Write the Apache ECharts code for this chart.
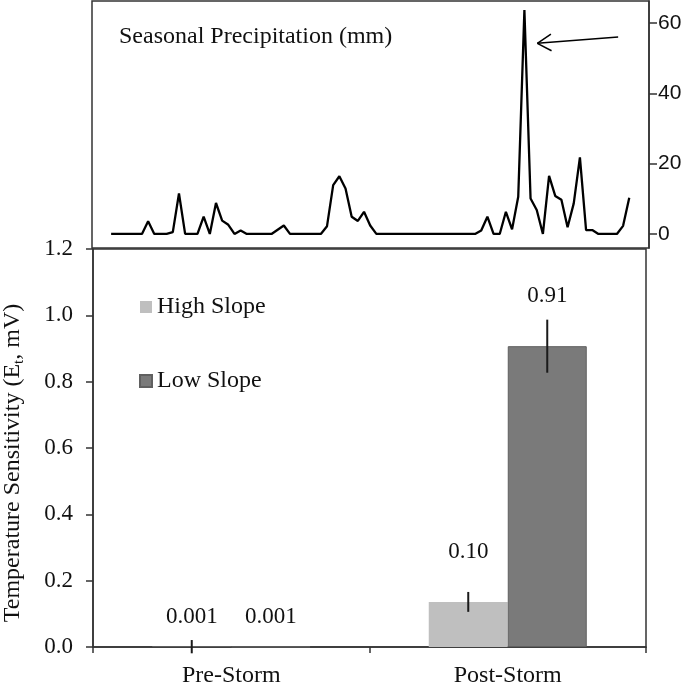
<!DOCTYPE html>
<html>
<head>
<meta charset="utf-8">
<script src="https://cdn.jsdelivr.net/npm/echarts@6/dist/echarts.min.js"></script>
<style>
html,body{margin:0;padding:0;background:#fff;}
#chart{width:685px;height:685px;}
</style>
</head>
<body>
<div id="chart"></div>
<script>
// ---- data ----
const precip = [
  0, 0, 0, 0, 0, 0, 3.6, 0, 0, 0,
  0.5, 11.5, 0, 0, 0, 4.9, 0, 8.8, 3.8, 2.6,
  0, 1.0, 0, 0, 0, 0, 0, 1.2, 2.4, 0,
  0, 0, 0, 0, 0, 2.2, 13.9, 16.4, 12.9, 4.9,
  3.7, 6.3, 2.4, 0, 0, 0, 0, 0, 0, 0,
  0, 0, 0, 0, 0, 0, 0, 0, 0, 0,
  1.0, 4.9, 0, 0, 6.3, 1.3, 10.6, 63.7, 10.1, 6.8,
  0, 16.5, 10.8, 9.7, 1.9, 8.7, 21.8, 1.1, 1.1, 0,
  0, 0, 0, 2.3, 10.3
];
const precipTicks = [0, 20, 40, 60];
const categories = ['Pre-Storm', 'Post-Storm'];
const seriesNames = ['High Slope', 'Low Slope'];
const highSlope = [0.001, 0.136];
const lowSlope = [0.001, 0.907];
const highErr = [0.02, 0.03];
const lowErr = [0, 0.08];
const highLabels = ['0.001', '0.10'];
const lowLabels = ['0.001', '0.91'];
const chartTitle = 'Seasonal Precipitation (mm)';

// ---- styles ----
const SERIF = "'Liberation Serif','Times New Roman',serif";
const SANS_N = "'Liberation Sans Narrow','Liberation Sans',Arial,sans-serif";
const BAR_W = 79;
const AX = '#333';

const chart = echarts.init(document.getElementById('chart'), null, {renderer: 'canvas'});

function errRender(sign, labels, lifts) {
  return function (params, api) {
    const i = api.value(0), v = api.value(1), e = api.value(2);
    const c = api.coord([i, v]);
    const x = c[0] + sign * BAR_W / 2;
    const top = api.coord([i, v + e])[1];
    const bot = api.coord([i, v - e])[1];
    const children = [];
    if (e > 0) {
      children.push({type: 'line', shape: {x1: x, y1: top, x2: x, y2: bot},
        style: {stroke: '#1a1a1a', lineWidth: 2}});
    }
    children.push({type: 'text', x: x, y: top - lifts[params.dataIndex],
      style: {text: labels[params.dataIndex], font: '23px ' + SERIF, fill: '#111',
        textAlign: 'center', textVerticalAlign: 'middle'}});
    return {type: 'group', children: children};
  };
}

const option = {
  animation: false,
  backgroundColor: '#fff',
  title: {
    text: chartTitle, left: 119, top: 23, padding: 0,
    textStyle: {fontFamily: SERIF, fontSize: 24, fontWeight: 'normal', color: '#111', lineHeight: 28}
  },
  legend: {
    data: seriesNames, orient: 'vertical', left: 139, top: 295, padding: 0,
    itemWidth: 12, itemHeight: 12, itemGap: 50, icon: 'rect',
    textStyle: {fontFamily: SERIF, fontSize: 24, color: '#111', lineHeight: 24}
  },
  grid: [
    {left: 92, right: 36, top: 1, bottom: 437, show: true, borderColor: AX, borderWidth: 1.5,
      backgroundColor: 'transparent', containLabel: false, outerBoundsMode: 'none'},
    {left: 93, right: 39, top: 249, bottom: 38, show: true, borderColor: AX, borderWidth: 1.5,
      backgroundColor: 'transparent', containLabel: false, outerBoundsMode: 'none'}
  ],
  xAxis: [
    {gridIndex: 0, type: 'value', min: -3.1, max: 87.2,
      axisLine: {show: false}, axisTick: {show: false}, axisLabel: {show: false}, splitLine: {show: false}},
    {gridIndex: 1, type: 'category', data: categories,
      axisLine: {lineStyle: {color: AX, width: 1.5}},
      axisTick: {show: true, length: 6, lineStyle: {color: AX, width: 1.5}},
      axisLabel: {fontFamily: SERIF, fontSize: 24, color: '#111', margin: 17},
      splitLine: {show: false}}
  ],
  yAxis: [
    {gridIndex: 0, type: 'value', position: 'right', min: -4, max: 66.25,
      axisLine: {show: true, onZero: false, lineStyle: {color: AX, width: 1.5}},
      axisTick: {show: true, length: 8, customValues: precipTicks, lineStyle: {color: AX, width: 1.5}},
      axisLabel: {customValues: precipTicks, fontFamily: SANS_N, fontSize: 21, color: '#111', margin: 9},
      splitLine: {show: false}},
    {gridIndex: 1, type: 'value', min: 0, max: 1.2, interval: 0.2,
      name: '{a|Temperature Sensitivity (E}{s|t}{a|, mV)}',
      nameLocation: 'middle', nameGap: 66,
      nameTextStyle: {
        padding: [0, 30, 0, 0],
        rich: {
          a: {fontFamily: SERIF, fontSize: 24, color: '#111', lineHeight: 28},
          s: {fontFamily: SERIF, fontSize: 15, color: '#111', lineHeight: 14, verticalAlign: 'bottom'}
        }
      },
      axisLine: {show: true, onZero: false, lineStyle: {color: AX, width: 1.5}},
      axisTick: {show: true, length: 7, lineStyle: {color: AX, width: 1.5}},
      axisLabel: {fontFamily: SERIF, fontSize: 23, color: '#111', margin: 20,
        formatter: v => v.toFixed(1)},
      splitLine: {show: false}}
  ],
  series: [
    {
      name: 'Precipitation', type: 'line', xAxisIndex: 0, yAxisIndex: 0,
      data: precip.map((v, i) => [i, v]),
      symbol: 'none', lineStyle: {color: '#000', width: 2.3}, z: 3,
      markLine: {
        silent: true, symbol: 'none', animation: false,
        label: {show: false},
        lineStyle: {color: '#000', width: 1.5, type: 'solid'},
        data: [
          [{coord: [69.1, 54.2]}, {coord: [82.2, 56.0]}],
          [{coord: [69.1, 54.2]}, {coord: [71.3, 56.8]}],
          [{coord: [69.1, 54.2]}, {coord: [71.4, 52.1]}]
        ]
      }
    },
    {
      name: seriesNames[0], type: 'bar', xAxisIndex: 1, yAxisIndex: 1,
      data: highSlope, barWidth: BAR_W, barGap: '0%',
      itemStyle: {color: '#bfbfbf'}
    },
    {
      name: seriesNames[1], type: 'bar', xAxisIndex: 1, yAxisIndex: 1,
      data: lowSlope, barWidth: BAR_W, barGap: '0%',
      itemStyle: {color: '#7a7a7a', borderColor: '#606060', borderWidth: 1}
    },
    {
      type: 'custom', xAxisIndex: 1, yAxisIndex: 1, clip: false, z: 5, silent: true,
      data: highSlope.map((v, i) => [i, v, highErr[i]]),
      renderItem: errRender(-1, highLabels, [23.5, 40])
    },
    {
      type: 'custom', xAxisIndex: 1, yAxisIndex: 1, clip: false, z: 5, silent: true,
      data: lowSlope.map((v, i) => [i, v, lowErr[i]]),
      renderItem: errRender(1, lowLabels, [30, 24])
    }
  ]
};
chart.setOption(option);
</script>
</body>
</html>
